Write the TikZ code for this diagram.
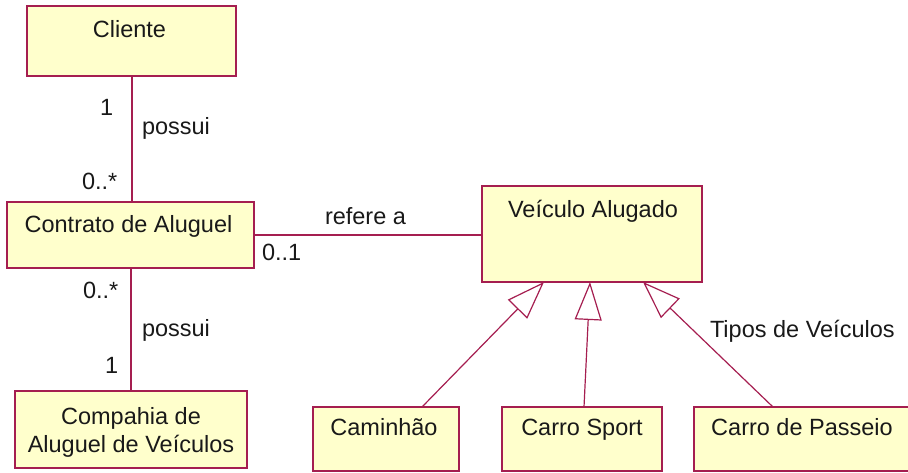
\documentclass[tikz,border=0pt]{standalone}
\usepackage{fontspec}
\setmainfont{Liberation Sans}
\usetikzlibrary{arrows.meta,calc}
\definecolor{umlborder}{RGB}{165,30,80}
\definecolor{umlfill}{RGB}{255,255,204}
\definecolor{umltext}{RGB}{25,25,25}
\tikzset{
  cls/.style={draw=umlborder, fill=umlfill, line width=2pt, rectangle, inner sep=0pt, outer sep=0pt},
  txt/.style={inner sep=0pt, outer sep=0pt, text=umltext, font=\fontsize{23.5}{28}\selectfont},
  assoc/.style={draw=umlborder, line width=2pt},
  gen/.style={draw=umlborder, line width=1.2pt, -{Triangle[open, length=38pt, width=27pt, fill=white]}},
}
\begin{document}
\begin{tikzpicture}[x=1pt,y=-1pt]
\useasboundingbox (0,0) rectangle (908,472);
\clip (0,0) rectangle (908,472);
% boxes
\node[cls, minimum width=209pt, minimum height=70pt] (cliente) at (131.5,41) {};
\node[cls, minimum width=247pt, minimum height=66pt] (contrato) at (130.5,235) {};
\node[cls, minimum width=232pt, minimum height=77pt] (compahia) at (131,429.5) {};
\node[cls, minimum width=220pt, minimum height=96pt] (veiculo) at (592,234) {};
\node[cls, minimum width=146pt, minimum height=64pt] (caminhao) at (386,439) {};
\node[cls, minimum width=160pt, minimum height=64pt] (sport) at (582,439) {};
\node[cls, minimum width=226pt, minimum height=64pt] (passeio) at (807,439) {};
% class names
\node[txt, anchor=base] (tcliente) at ($(cliente.north)+(-2,31)$) {Cliente};
\node[txt, anchor=base] (tcontrato) at ($(contrato.north)+(-2,30)$) {Contrato de Aluguel};
\node[txt, anchor=north, align=center] (tcompahia) at ($(compahia.north)+(0,16)$) {Compahia de\\Aluguel de Veículos};
\node[txt, anchor=base] (tveiculo) at ($(veiculo.north)+(1,31)$) {Veículo Alugado};
\node[txt, anchor=base] (tcaminhao) at ($(caminhao.north)+(-2,28)$) {Caminhão};
\node[txt, anchor=base] (tsport) at ($(sport.north)+(0,28)$) {Carro Sport};
\node[txt, anchor=base] (tpasseio) at ($(passeio.north)+(-5,28)$) {Carro de Passeio};
% associations
\draw[assoc] (cliente.south) -- (cliente.south |- contrato.north);
\draw[assoc] (contrato.south) -- (contrato.south |- compahia.north);
\draw[assoc] (contrato.east) -- (contrato.east -| veiculo.west);
% association labels
\node[txt, anchor=base west] (m1) at (100,115) {1};
\node[txt, anchor=base west] (p1) at (142,134) {possui};
\node[txt, anchor=base west] (m2) at (82,189) {0..*};
\node[txt, anchor=base west] (m3) at (83,298) {0..*};
\node[txt, anchor=base west] (p2) at (142,336) {possui};
\node[txt, anchor=base west] (m4) at (105,373) {1};
\node[txt, anchor=base west] (m5) at (262,260) {0..1};
\node[txt, anchor=base west] (ref) at (325,224) {refere a};
\node[txt, anchor=base west] (tipos) at (710,337) {Tipos de Veículos};
% generalizations
\coordinate (g1) at ($(veiculo.south west)+(62,0)$);
\coordinate (g2) at ($(veiculo.south west)+(108,0)$);
\coordinate (g3) at ($(veiculo.south west)+(161,0)$);
\draw[gen] ($(caminhao.north west)+(109,0)$) -- (g1);
\draw[gen] ($(sport.north west)+(82,0)$) -- (g2);
\draw[gen] ($(passeio.north west)+(79,0)$) -- (g3);
\end{tikzpicture}
\end{document}
